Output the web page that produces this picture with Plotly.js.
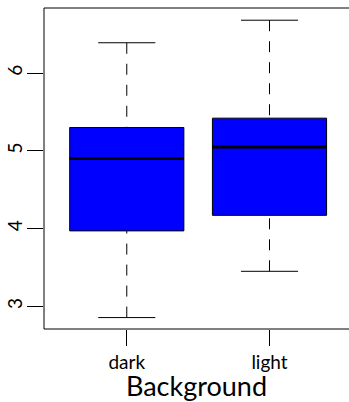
<!DOCTYPE html>
<html>
<head>
<meta charset="utf-8">
<script src="https://cdn.plot.ly/plotly-3.0.1.min.js"></script>
<style>
html,body{margin:0;padding:0;overflow:hidden;background:#fff;}
#chart{width:349px;height:402px;}
</style>
</head>
<body>
<div id="chart"></div>
<script>
// Data
var categories = ["dark", "light"];
var positions = [0, 1];
var lowerWhisker = [2.855, 3.45];
var q1 = [3.97, 4.17];
var median = [4.90, 5.05];
var q3 = [5.30, 5.42];
var upperWhisker = [6.39, 6.68];
var yTicks = [3, 4, 5, 6];

var traces = [];
var font = "Lato, 'DejaVu Sans', sans-serif";

traces.push({
  type: "box",
  x: positions,
  q1: q1,
  median: median,
  q3: q3,
  lowerfence: q1,
  upperfence: q3,
  width: 0.8,
  fillcolor: "#0000FF",
  line: {color: "#000000", width: 1},
  whiskerwidth: 0,
  boxpoints: false,
  hoverinfo: "skip",
  showlegend: false
});

for (var i = 0; i < positions.length; i++) {
  var p = positions[i];
  traces.push({
    type: "scatter", mode: "lines",
    x: [p, p, null, p, p],
    y: [upperWhisker[i], q3[i], null, lowerWhisker[i], q1[i]],
    line: {color: "#000000", width: 1, dash: "11px,10px"}, hoverinfo: "skip", showlegend: false
  });
  traces.push({
    type: "scatter", mode: "lines",
    x: [p - 0.2, p + 0.2, null, p - 0.2, p + 0.2],
    y: [upperWhisker[i], upperWhisker[i], null, lowerWhisker[i], lowerWhisker[i]],
    line: {color: "#000000", width: 1}, hoverinfo: "skip", showlegend: false
  });
  traces.push({
    type: "scatter", mode: "lines",
    x: [p - 0.4, p + 0.4], y: [median[i], median[i]],
    line: {color: "#000000", width: 3}, hoverinfo: "skip", showlegend: false
  });
}

var border = {color: "#000000", width: 1};
var layout = {
  width: 349,
  height: 402,
  margin: {l: 44, r: 0, t: 8, b: 73},
  paper_bgcolor: "#ffffff",
  plot_bgcolor: "#ffffff",
  font: {family: font, color: "#000000"},
  showlegend: false,
  shapes: [
    {type: "line", xref: "paper", yref: "paper", x0: 0, x1: 1, y0: 1, y1: 1, line: border},
    {type: "line", xref: "paper", yref: "paper", x0: 0, x1: 1, y0: 0, y1: 0, line: border},
    {type: "line", xref: "paper", yref: "paper", x0: 0, x1: 0, y0: 0, y1: 1, line: border}
  ],
  xaxis: {
    range: [-0.58, 1.557],
    tickvals: positions,
    ticktext: categories,
    ticks: "outside",
    ticklen: 16,
    tickwidth: 1,
    tickcolor: "#000000",
    showgrid: false,
    zeroline: false,
    showline: false,
    tickfont: {size: 19, family: font},
    title: {text: "Background", font: {size: 27, family: font}, standoff: 3}
  },
  yaxis: {
    range: [2.708, 6.837],
    tickvals: yTicks,
    ticktext: yTicks.map(String),
    tickangle: -90,
    ticks: "outside",
    ticklen: 16,
    tickwidth: 1,
    tickcolor: "#000000",
    showgrid: false,
    zeroline: false,
    showline: false,
    ticklabelstandoff: -3,
    tickfont: {size: 19, family: font}
  }
};

Plotly.newPlot("chart", traces, layout, {staticPlot: true, displayModeBar: false});
</script>
</body>
</html>
